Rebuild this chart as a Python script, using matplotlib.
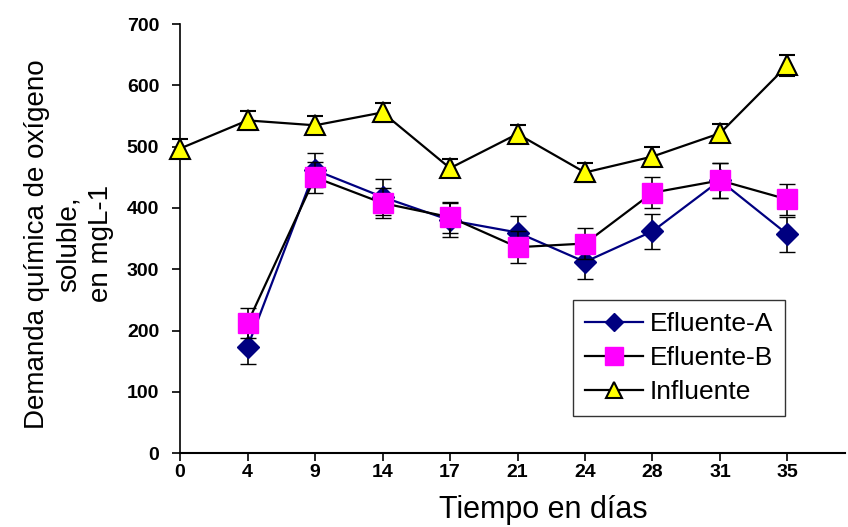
import matplotlib
matplotlib.use("Agg")
import matplotlib.pyplot as plt
from matplotlib.lines import Line2D
import numpy as np

plt.rcParams['font.family'] = ['Liberation Sans', 'DejaVu Sans']

days = ["0", "4", "9", "14", "17", "21", "24", "28", "31", "35"]
efluente_a = [np.nan, 173, 462, 418, 380, 360, 312, 362, 445, 357]
efluente_a_err = [np.nan, 28, 28, 30, 28, 27, 28, 29, 28, 29]
efluente_b = [np.nan, 212, 450, 408, 385, 336, 342, 425, 445, 414]
efluente_b_err = [np.nan, 24, 25, 25, 25, 26, 25, 25, 28, 25]
influente = [497, 543, 535, 556, 465, 521, 458, 484, 522, 633]
influente_err = [15, 15, 15, 15, 15, 15, 15, 15, 15, 17]

x = np.arange(len(days))

fig = plt.figure(figsize=(8.48, 5.27), dpi=100)
ax = fig.add_axes([0.2123, 0.1404, 0.784, 0.8136])

styles = [
    dict(data=efluente_a, err=efluente_a_err, color='#000080', marker='D', ms=11,
         mfc='#000080', mec='#000080', mew=1.0, label='Efluente-A', z=3),
    dict(data=efluente_b, err=efluente_b_err, color='black', marker='s', ms=15,
         mfc='#FF00FF', mec='#FF00FF', mew=1.0, label='Efluente-B', z=4),
    dict(data=influente, err=influente_err, color='black', marker='^', ms=14,
         mfc='#FFFF00', mec='black', mew=1.5, label='Influente', z=5),
]

handles = []
for s in styles:
    cont = ax.errorbar(x, s['data'], yerr=s['err'], color=s['color'], lw=1.6,
                       marker=s['marker'], ms=s['ms'], mfc=s['mfc'], mec=s['mec'],
                       mew=s['mew'], ecolor='black', elinewidth=1.2, capsize=6,
                       capthick=1.2, zorder=s['z'])
    for art in cont.get_children():
        art.set_clip_on(False)
    handles.append(Line2D([], [], color=s['color'], lw=1.6, marker=s['marker'],
                          ms=s['ms'] * 0.85, mfc=s['mfc'], mec=s['mec'],
                          mew=s['mew'], label=s['label']))

ax.set_xlim(0, 9.85)
ax.set_ylim(0, 700)
ax.set_xticks(x)
ax.set_xticklabels(days)
ax.set_yticks(np.arange(0, 701, 100))
for lbl in ax.get_xticklabels() + ax.get_yticklabels():
    lbl.set_fontweight('bold')
    lbl.set_fontsize(14)
ax.tick_params(axis='y', direction='out', length=6, width=1.2, pad=9)
ax.tick_params(axis='x', direction='out', length=6, width=1.2, pad=2)
ax.spines['top'].set_visible(False)
ax.spines['right'].set_visible(False)
ax.spines['left'].set_linewidth(1.2)
ax.spines['bottom'].set_linewidth(1.5)

ax.set_xlabel('Tiempo en días', fontsize=22)
ax.xaxis.set_label_coords(0.547, -0.098)
ax.set_ylabel('Demanda química de oxígeno\nsoluble,\nen mgL-1', fontsize=20,
              linespacing=1.3)
ax.yaxis.set_label_coords(-0.1, 0.488)

leg = ax.legend(handles=handles, loc='upper left', bbox_to_anchor=(0.591, 0.357),
                fontsize=19, frameon=True, fancybox=False, edgecolor='black',
                handlelength=2.2, borderpad=0.45, labelspacing=0.38,
                handletextpad=0.25, borderaxespad=0)
leg.get_frame().set_linewidth(1.0)

fig.savefig('out.png', dpi=100)
